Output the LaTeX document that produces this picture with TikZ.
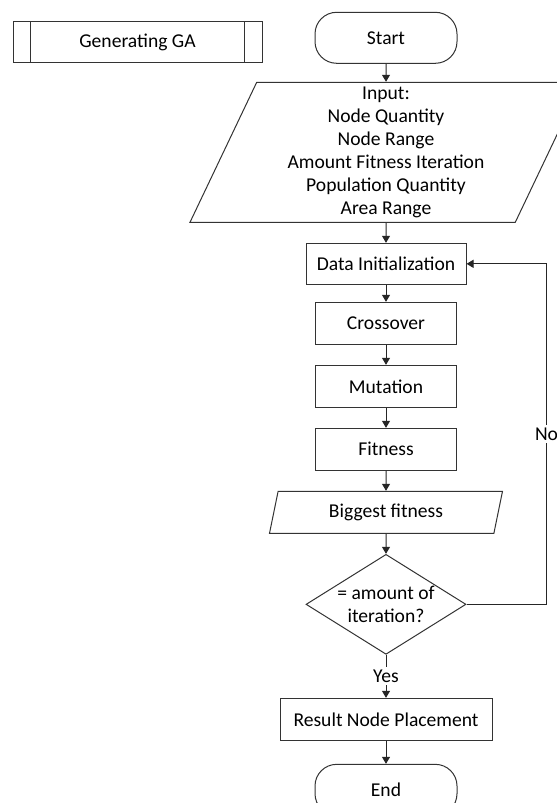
\documentclass[tikz,border=0pt]{standalone}
\usepackage{fontspec}
\setmainfont{Carlito}
\usepackage{tikz}
\usetikzlibrary{positioning}
\usetikzlibrary{arrows.meta}
\usetikzlibrary{shapes.geometric}

\begin{document}
\begin{tikzpicture}[x=0.6pt, y=-0.6pt,
    font=\fontsize{11.75}{13.8}\selectfont,
    base/.style={draw=black!80, line width=0.6pt, text centered, align=center, inner sep=1pt},
    terminal/.style={base, rounded corners=13pt, minimum width=85.2pt, minimum height=30.6pt},
    process/.style={base, minimum width=84.6pt, minimum height=25.2pt},
    io/.style={base, trapezium, trapezium left angle=63, trapezium right angle=117,
      trapezium stretches body, inner sep=0pt},
    decision/.style={base, diamond, aspect=1.6, inner sep=0pt, minimum width=96pt, minimum height=60pt},
    flow/.style={-{Triangle[length=4.2pt, width=4.8pt]}, line width=0.6pt, draw=black!85},
    lab/.style={fill=white, inner sep=1.5pt}]
    \useasboundingbox (0,0) rectangle (556,803);
    % nodes %
    \node[terminal] (start) at (386,37.8) {Start};
    \node[base, minimum width=149.4pt, minimum height=24.6pt, left=31.2pt of start, yshift=-2.7pt] (gen) {Generating GA};
    \node[io, minimum width=235.2pt, minimum height=84pt, below=10.8pt of start] (input)
      {Input:\\Node Quantity\\Node Range\\Amount Fitness Iteration\\Population Quantity\\Area Range};
    \node[process, minimum width=96pt, minimum height=24.6pt, below=12pt of input] (init) {Data Initialization};
    \node[process, below=10.2pt of init] (cross) {Crossover};
    \node[process, below=12pt of cross] (mut) {Mutation};
    \node[process, below=12pt of mut] (fit) {Fitness};
    \node[io, minimum width=139.8pt, minimum height=25.2pt, below=12pt of fit] (big) {Biggest fitness};
    \node[decision, below=12pt of big] (dec) {= amount of\\iteration?};
    \node[process, minimum width=127.2pt, below=25.8pt of dec] (res) {Result Node Placement};
    \node[terminal, below=13.8pt of res] (end) {End};
    \coordinate[right=48pt of dec.east] (loop);
    % sub-process bars %
    \draw[draw=black!80, line width=0.6pt] ([xshift=10.6pt]gen.north west) -- ([xshift=10.6pt]gen.south west);
    \draw[draw=black!80, line width=0.6pt] ([xshift=-10.6pt]gen.north east) -- ([xshift=-10.6pt]gen.south east);
    % edges %
    \draw[flow] (start) -- (input);
    \draw[flow] (input) -- (init);
    \draw[flow] (init) -- (cross);
    \draw[flow] (cross) -- (mut);
    \draw[flow] (mut) -- (fit);
    \draw[flow] (fit) -- (big);
    \draw[flow] (big) -- (dec);
    \draw[flow] (dec) -- node[lab] {Yes} (res);
    \draw[flow] (res) -- (end);
    \draw[flow] (dec.east) -- (loop) |- node[lab, pos=0.25] {No} (init.east);
\end{tikzpicture}
\end{document}
